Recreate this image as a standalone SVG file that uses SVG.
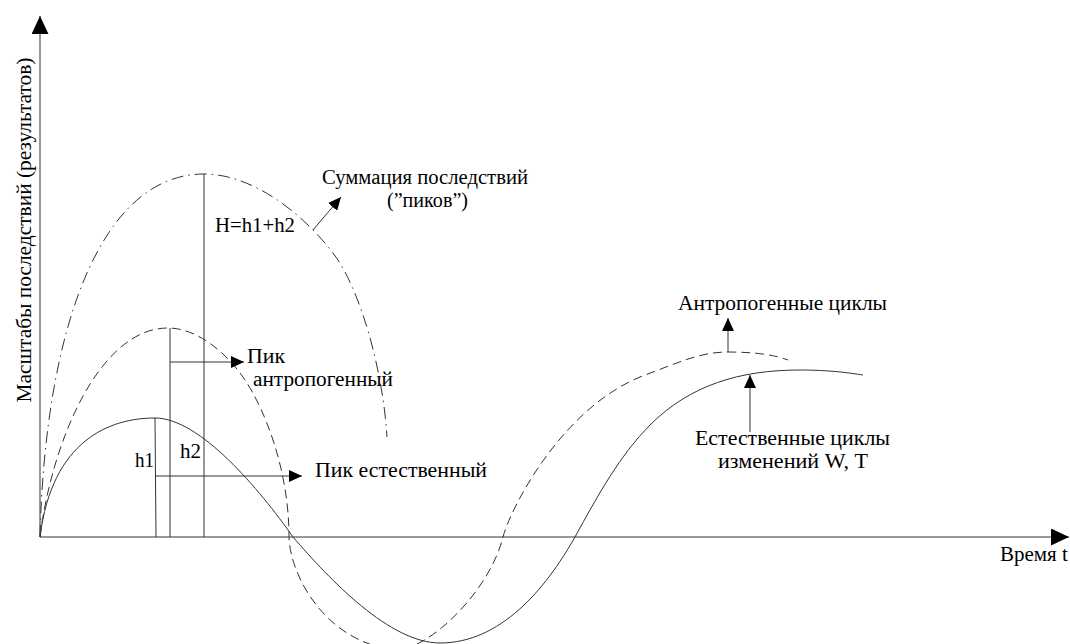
<svg xmlns="http://www.w3.org/2000/svg" width="1070" height="644" viewBox="0 0 1070 644">
<style>
.ln{fill:none;stroke:#333;stroke-width:1}
.solid{fill:none;stroke:#333;stroke-width:1}
.dash{fill:none;stroke:#333;stroke-width:1;stroke-dasharray:9 5}
.dashdot{fill:none;stroke:#333;stroke-width:1;stroke-dasharray:12 5 1.5 5}
</style>
<defs>
<marker id="ah" markerUnits="userSpaceOnUse" markerWidth="14" markerHeight="12" refX="13" refY="6" orient="auto"><path d="M0,0 L13,6 L0,12 z" fill="#000"/></marker>
<marker id="ax" markerUnits="userSpaceOnUse" markerWidth="19" markerHeight="17" refX="18" refY="8.5" orient="auto"><path d="M0,0 L18,8.5 L0,17 z" fill="#000"/></marker>
</defs>
<rect width="1070" height="644" fill="#fff"/>
<g id="axes">
<line class="ln" x1="40" y1="537" x2="40" y2="16" marker-end="url(#ax)"/>
<line class="ln" x1="40" y1="537" x2="1069" y2="537" marker-end="url(#ax)"/>
<text id="y-label" style="font-family:'Liberation Serif';font-size:21px" transform="translate(31,230) rotate(-90)" text-anchor="middle" textLength="345" lengthAdjust="spacingAndGlyphs">Масштабы последствий (результатов)</text>
<text id="x-label" style="font-family:'Liberation Serif';font-size:21px" x="1000" y="561">Время t</text>
</g>
<g id="curves">
<path id="natural" class="solid" d="M40,537 C52,440 110,418 155,418 C200,418 260,490 293,537 C330,580 390,643 440,643 C500,643 545,590 575,537 C598,495 620,455 650,425 C690,385 740,370 800,370 C830,370 850,373 863,375"/>
<path id="anthro" class="dash" d="M40,537 C52,440 100,328 168,328 C195,328 225,350 245,380 C265,410 289,470 289,537 C290,575 325,642 395,650 C430,650 490,590 503,537 C510,510 560,410 640,377 C680,362 700,352 728,352 C755,352 775,355 788,360"/>
<path id="sum" class="dashdot" d="M40,537 C45,330 100,174 204,174 C250,174 300,210 333,253 C360,288 383,370 387,437"/>
</g>
<g id="verticals">
<line class="ln" x1="155" y1="418" x2="156" y2="537"/>
<line class="ln" x1="170" y1="328" x2="170" y2="537"/>
<line class="ln" x1="204" y1="174" x2="204" y2="537"/>
</g>
<g id="connectors">
<line class="ln" x1="170" y1="362" x2="244" y2="362" marker-end="url(#ah)"/>
<line class="ln" x1="155" y1="476" x2="302" y2="476" marker-end="url(#ah)"/>
<line class="ln" x1="313" y1="230" x2="341" y2="197" marker-end="url(#ah)"/>
<line class="ln" x1="728" y1="352" x2="728" y2="318" marker-end="url(#ah)"/>
<line class="ln" x1="750" y1="432" x2="750" y2="375" marker-end="url(#ah)"/>
</g>
<g id="labels">
<text style="font-family:'Liberation Serif';font-size:20px" x="322" y="184" textLength="206" lengthAdjust="spacingAndGlyphs">Суммация последствий</text>
<text style="font-family:'Liberation Serif';font-size:20px" x="387" y="207" textLength="81" lengthAdjust="spacingAndGlyphs">(”пиков”)</text>
<text style="font-family:'Liberation Serif';font-size:20px" x="215" y="232" textLength="80" lengthAdjust="spacingAndGlyphs">H=h1+h2</text>
<text style="font-family:'Liberation Serif';font-size:20px" x="247" y="363" textLength="38" lengthAdjust="spacingAndGlyphs">Пик</text>
<text style="font-family:'Liberation Serif';font-size:20px" x="253" y="386" textLength="140" lengthAdjust="spacingAndGlyphs">антропогенный</text>
<text style="font-family:'Liberation Serif';font-size:20px" x="135" y="467" textLength="19" lengthAdjust="spacingAndGlyphs">h1</text>
<text style="font-family:'Liberation Serif';font-size:20px" x="180" y="458" textLength="21" lengthAdjust="spacingAndGlyphs">h2</text>
<text style="font-family:'Liberation Serif';font-size:20px" x="315" y="477" textLength="172" lengthAdjust="spacingAndGlyphs">Пик естественный</text>
<text style="font-family:'Liberation Serif';font-size:20px" x="678" y="310" textLength="209" lengthAdjust="spacingAndGlyphs">Антропогенные циклы</text>
<text style="font-family:'Liberation Serif';font-size:20px" x="695" y="445" textLength="195" lengthAdjust="spacingAndGlyphs">Естественные циклы</text>
<text style="font-family:'Liberation Serif';font-size:20px" x="718" y="468" textLength="150" lengthAdjust="spacingAndGlyphs">изменений W, Т</text>
</g>
</svg>
